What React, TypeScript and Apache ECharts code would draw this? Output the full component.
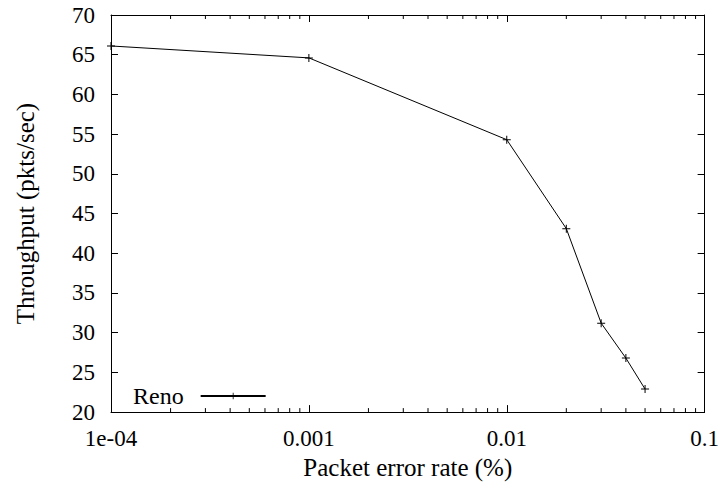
import React, { useEffect, useRef } from "react";
import * as echarts from "echarts";

const errorRates = [0.0001, 0.001, 0.01, 0.02, 0.03, 0.04, 0.05];
const throughput = [66.1, 64.6, 54.3, 43.1, 31.2, 26.8, 22.9];
const minorTicks = [
  0.0002, 0.0003, 0.0004, 0.0005, 0.0006, 0.0007, 0.0008, 0.0009,
  0.002, 0.003, 0.004, 0.005, 0.006, 0.007, 0.008, 0.009,
  0.02, 0.03, 0.04, 0.05, 0.06, 0.07, 0.08, 0.09,
];
const seriesName = "Reno";
const xName = "Packet error rate (%)";
const yName = "Throughput (pkts/sec)";

const FONT = "Liberation Serif";
const PLUS = "path://M3.5,0 h1 v3.5 h3.5 v1 h-3.5 v3.5 h-1 v-3.5 h-3.5 v-1 h3.5 z";

export default function App() {
  const ref = useRef<HTMLDivElement>(null);
  useEffect(() => {
    document.body.style.margin = "0";
    const css = document.createElement("style");
    css.textContent = "#root svg text { font-family: 'Liberation Serif', 'Times New Roman', serif !important; }";
    document.head.appendChild(css);
    const chart = echarts.init(ref.current!, null, { renderer: "svg" });
    const xLabel = (v: number) => {
      if (Math.abs(v - 0.0001) < 1e-9) return "1e-04";
      return String(Number(v.toPrecision(3)));
    };
    const baseX = {
      type: "log" as const,
      logBase: 10,
      min: 0.0001,
      max: 0.1,
      splitLine: { show: false },
      axisLine: { show: true, lineStyle: { color: "#000", width: 1 } },
      axisTick: { show: true, inside: true, length: 7, lineStyle: { color: "#000" } },
    };
    const baseY = {
      type: "value" as const,
      min: 20,
      max: 70,
      interval: 5,
      splitLine: { show: false },
      axisLine: { show: true, lineStyle: { color: "#000", width: 1 } },
      axisTick: { show: true, inside: true, length: 7, lineStyle: { color: "#000" } },
    };
    chart.setOption({
      animation: false,
      grid: { left: 111, right: 17, top: 15, bottom: 72, containLabel: false },
      xAxis: [
        {
          ...baseX,
          position: "bottom",
          name: xName,
          nameLocation: "middle",
          nameGap: 42,
          nameTextStyle: { fontFamily: FONT, fontSize: 25, color: "#000" },
          axisLabel: {
            margin: 15,
            fontFamily: FONT,
            fontSize: 23,
            color: "#000",
            formatter: xLabel,
          },
        },
        { ...baseX, position: "top", axisLabel: { show: false } },
      ],
      yAxis: [
        {
          ...baseY,
          position: "left",
          name: yName,
          nameLocation: "middle",
          nameGap: 73,
          nameTextStyle: { fontFamily: FONT, fontSize: 25, color: "#000" },
          axisLabel: { margin: 16, fontFamily: FONT, fontSize: 23, color: "#000" },
        },
        { ...baseY, position: "right", axisLabel: { show: false } },
      ],
      legend: {
        left: 133,
        top: 384,
        padding: 0,
        align: "right",
        itemWidth: 65,
        itemHeight: 8,
        data: [seriesName],
        textStyle: { fontFamily: FONT, fontSize: 24, color: "#000", padding: [0, 12, 0, 0] },
      },
      series: [
        {
          type: "custom",
          silent: true,
          xAxisIndex: 0,
          yAxisIndex: 0,
          data: minorTicks.map((v) => [v]),
          renderItem: (params: any, api: any) => {
            const xv = api.value(0);
            const b = api.coord([xv, 20]);
            const t = api.coord([xv, 70]);
            return {
              type: "group",
              children: [
                {
                  type: "line",
                  shape: { x1: b[0], y1: b[1], x2: b[0], y2: b[1] - 4 },
                  style: { stroke: "#000", lineWidth: 1 },
                },
                {
                  type: "line",
                  shape: { x1: t[0], y1: t[1], x2: t[0], y2: t[1] + 4 },
                  style: { stroke: "#000", lineWidth: 1 },
                },
              ],
            };
          },
        },
        {
          name: seriesName,
          type: "line",
          xAxisIndex: 0,
          yAxisIndex: 0,
          data: errorRates.map((x, i) => [x, throughput[i]]),
          clip: false,
          symbol: PLUS,
          symbolSize: 8,
          showSymbol: true,
          lineStyle: { color: "#000", width: 1 },
          itemStyle: { color: "#000" },
        },
      ],
    });
    return () => {
      chart.dispose();
      css.remove();
    };
  }, []);
  return <div ref={ref} style={{ width: 722, height: 485 }} />;
}
